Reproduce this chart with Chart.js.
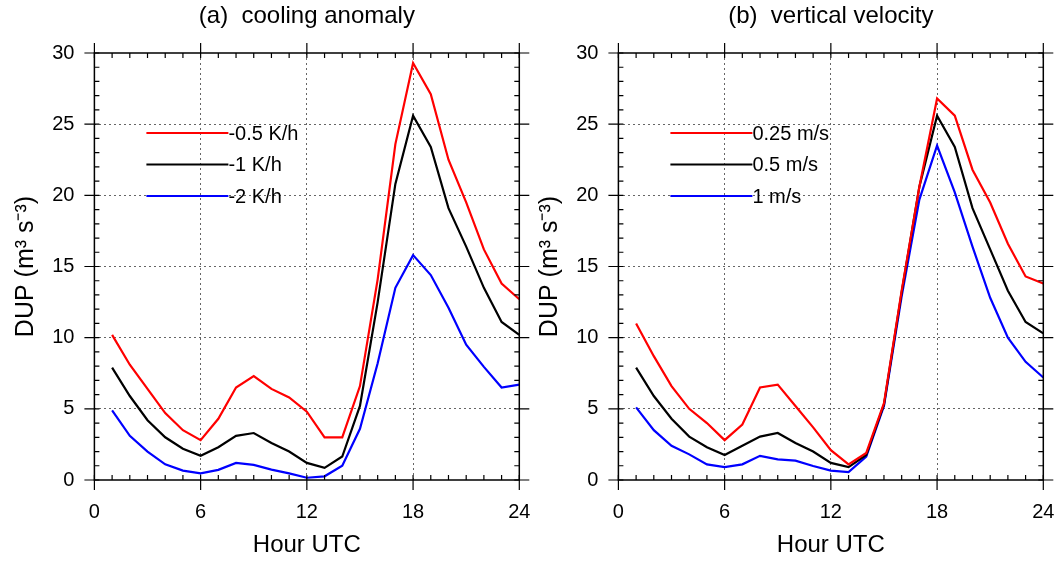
<!DOCTYPE html>
<html>
<head>
<meta charset="utf-8">
<script src="https://cdn.jsdelivr.net/npm/chart.js@4"></script>
<style>
  html, body { margin: 0; padding: 0; background: #fff; }
  #wrap { position: relative; width: 1057px; height: 562px; overflow: hidden; }
  canvas { position: absolute; top: 0; }
</style>
</head>
<body>
<div id="wrap">
  <canvas id="chartA" width="552" height="562" style="left:0px"></canvas>
  <canvas id="chartB" width="552" height="562" style="left:524px"></canvas>
</div>
<script>
// hours 1..24 UTC
const hours = [1, 2, 3, 4, 5, 6, 7, 8, 9, 10, 11, 12, 13, 14, 15, 16, 17, 18, 19, 20, 21, 22, 23, 24];

// (a) cooling anomaly
const coolHalf = [10.2, 8.1, 6.4, 4.7, 3.5, 2.8, 4.3, 6.5, 7.3, 6.4, 5.8, 4.8, 3.0, 3.0, 6.6, 14.1, 23.6, 29.3, 27.1, 22.5, 19.5, 16.2, 13.8, 12.7];
const coolOne  = [7.9, 5.9, 4.2, 3.0, 2.2, 1.7, 2.3, 3.1, 3.3, 2.6, 2.0, 1.2, 0.85, 1.65, 5.2, 12.5, 20.8, 25.6, 23.4, 19.1, 16.4, 13.5, 11.1, 10.2];
const coolTwo  = [4.9, 3.1, 2.0, 1.1, 0.66, 0.47, 0.71, 1.2, 1.06, 0.73, 0.47, 0.16, 0.26, 1.0, 3.6, 8.2, 13.5, 15.8, 14.4, 12.1, 9.5, 7.95, 6.5, 6.7];

// (b) vertical velocity
const velQuarter = [11.0, 8.7, 6.6, 5.0, 4.0, 2.8, 3.9, 6.5, 6.7, 5.2, 3.7, 2.1, 1.1, 1.9, 5.4, 13.3, 20.6, 26.8, 25.6, 21.8, 19.5, 16.6, 14.3, 13.8];
const velHalf    = [7.9, 5.9, 4.3, 3.05, 2.3, 1.76, 2.4, 3.05, 3.3, 2.6, 2.0, 1.2, 0.9, 1.76, 5.3, 13.2, 20.6, 25.6, 23.4, 19.1, 16.2, 13.3, 11.1, 10.3];
const velOne     = [5.1, 3.5, 2.4, 1.8, 1.1, 0.9, 1.1, 1.7, 1.45, 1.36, 0.98, 0.66, 0.56, 1.64, 5.2, 12.9, 19.7, 23.5, 20.2, 16.4, 12.8, 10.0, 8.3, 7.2];

const xMin = 0, xMax = 24, xStep = 6;
const yMin = 0, yMax = 30, yStep = 5;

Chart.defaults.font.family = "'Liberation Sans', Arial, sans-serif";
Chart.defaults.color = "#000";

const toPoints = (vals) => hours.map((h, i) => ({ x: h, y: vals[i] }));

// frame, outward major ticks, inward minor ticks on all four sides, panel title, inset legend
const frameAndLegend = {
  id: "frameAndLegend",
  afterDraw(chart, args, opts) {
    const { ctx, chartArea: a, scales: { x, y } } = chart;
    ctx.save();
    ctx.strokeStyle = "#000";
    ctx.lineWidth = 1.5;
    ctx.setLineDash([]);
    ctx.strokeRect(a.left, a.top, a.right - a.left, a.bottom - a.top);
    ctx.lineWidth = 1.2;
    ctx.beginPath();
    for (let v = xMin; v <= xMax; v++) {
      const px = x.getPixelForValue(v);
      if (v % xStep === 0) {
        ctx.moveTo(px, a.bottom + 10); ctx.lineTo(px, a.bottom - 5);
        ctx.moveTo(px, a.top - 10); ctx.lineTo(px, a.top + 5);
      } else {
        ctx.moveTo(px, a.bottom); ctx.lineTo(px, a.bottom - 5);
        ctx.moveTo(px, a.top); ctx.lineTo(px, a.top + 5);
      }
    }
    for (let v = yMin; v <= yMax; v++) {
      const py = y.getPixelForValue(v);
      if (v % yStep === 0) {
        ctx.moveTo(a.left - 10, py); ctx.lineTo(a.left + 5, py);
        ctx.moveTo(a.right + 10, py); ctx.lineTo(a.right - 5, py);
      } else {
        ctx.moveTo(a.left, py); ctx.lineTo(a.left + 5, py);
        ctx.moveTo(a.right, py); ctx.lineTo(a.right - 5, py);
      }
    }
    ctx.stroke();

    // panel title, centred over the plot
    ctx.fillStyle = "#000";
    ctx.font = "24px 'Liberation Sans', Arial, sans-serif";
    ctx.textAlign = "center";
    ctx.textBaseline = "middle";
    ctx.fillText(opts.title, (a.left + a.right) / 2, 16);

    // legend
    ctx.font = "20px 'Liberation Sans', Arial, sans-serif";
    ctx.textAlign = "left";
    chart.data.datasets.forEach((ds, i) => {
      const ly = a.top + 80 + i * 31.5;
      ctx.strokeStyle = ds.borderColor;
      ctx.lineWidth = 2;
      ctx.beginPath();
      ctx.moveTo(a.left + 52, ly);
      ctx.lineTo(a.left + 134, ly);
      ctx.stroke();
      ctx.fillText(ds.label, a.left + 134, ly + 1);
    });
    ctx.restore();
  }
};

function makeChart(canvasId, titleText, labels, series) {
  const colors = ["#ff0000", "#000000", "#0000ff"];
  return new Chart(document.getElementById(canvasId), {
    type: "line",
    data: {
      datasets: series.map((vals, i) => ({
        label: labels[i],
        data: toPoints(vals),
        borderColor: colors[i],
        backgroundColor: colors[i],
        borderWidth: 2.2,
        pointRadius: 0,
        tension: 0,
      })),
    },
    options: {
      responsive: false,
      animation: false,
      layout: { padding: { left: 0, right: 32.7, top: 53, bottom: 0 } },
      plugins: {
        legend: { display: false },
        tooltip: { enabled: false },
        title: { display: false },
        frameAndLegend: { title: titleText },
      },
      scales: {
        x: {
          type: "linear",
          min: xMin, max: xMax,
          ticks: { stepSize: xStep, font: { size: 20 }, padding: 20, maxRotation: 0 },
          grid: {
            drawTicks: false,
            color: (c) => (c.tick && (c.tick.value === xMin || c.tick.value === xMax)) ? "rgba(0,0,0,0)" : "#666",
            lineWidth: 1,
          },
          border: { display: false, dash: [2, 3] },
          title: { display: true, text: "Hour UTC", font: { size: 24 }, padding: { top: 0, bottom: 2 } },
          afterFit: (s) => { s.height = 82; },
        },
        y: {
          min: yMin, max: yMax,
          ticks: { stepSize: yStep, font: { size: 20 }, padding: 20 },
          grid: {
            drawTicks: false,
            color: (c) => (c.tick && (c.tick.value === yMin || c.tick.value === yMax)) ? "rgba(0,0,0,0)" : "#666",
            lineWidth: 1,
          },
          border: { display: false, dash: [2, 3] },
          title: { display: true, text: "DUP (m³ s⁻³)", font: { size: 25 }, padding: { top: 11, bottom: 0 } },
          afterFit: (s) => { s.width = 94.4; },
        },
      },
    },
    plugins: [frameAndLegend],
  });
}

makeChart("chartA", "(a)  cooling anomaly", ["-0.5 K/h", "-1 K/h", "-2 K/h"], [coolHalf, coolOne, coolTwo]);
makeChart("chartB", "(b)  vertical velocity", ["0.25 m/s", "0.5 m/s", "1 m/s"], [velQuarter, velHalf, velOne]);
</script>
</body>
</html>
